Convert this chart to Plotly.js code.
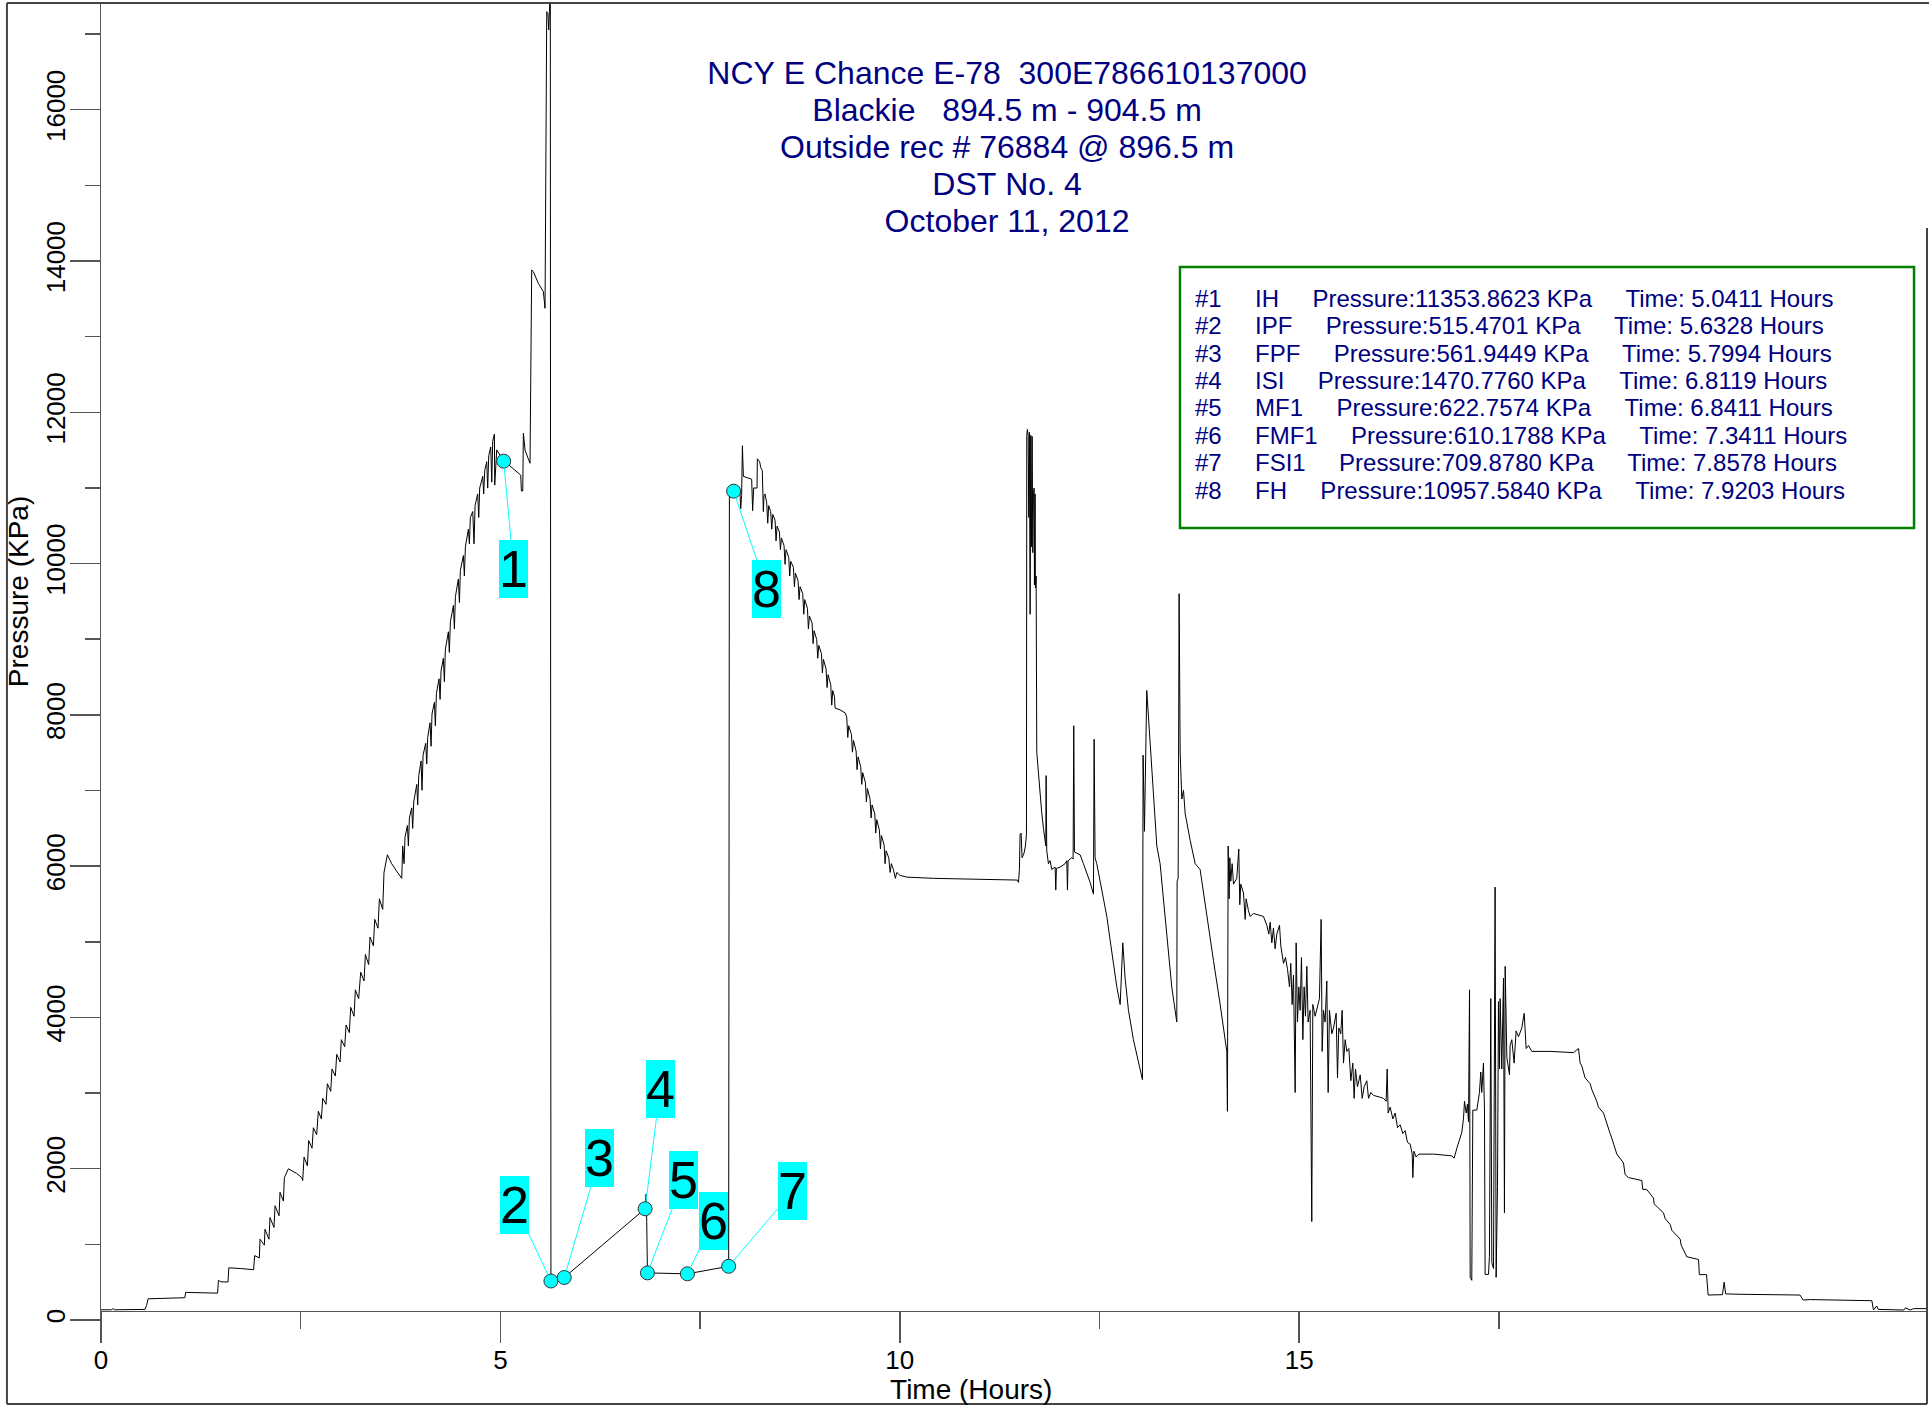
<!DOCTYPE html>
<html>
<head>
<meta charset="utf-8">
<script src="https://cdn.plot.ly/plotly-3.0.1.min.js"></script>
<style>html,body{margin:0;padding:0;background:#fff;}#chart{width:1929px;height:1405px;}</style>
</head>
<body>
<div id="chart"></div>
<script>
// ---------------- DATA ----------------
const titleLines = [
  'NCY E Chance E-78  300E786610137000',
  'Blackie   894.5 m - 904.5 m',
  'Outside rec # 76884 @ 896.5 m',
  'DST No. 4',
  'October 11, 2012'
];

// Event points (legend box + cyan markers)
const eventNames = ['IH', 'IPF', 'FPF', 'ISI', 'MF1', 'FMF1', 'FSI1', 'FH'];
const eventPressures = [11353.8623, 515.4701, 561.9449, 1470.7760, 622.7574, 610.1788, 709.8780, 10957.5840];
const eventTimes = [5.0411, 5.6328, 5.7994, 6.8119, 6.8411, 7.3411, 7.8578, 7.9203];

// Tick values
const timeTicks = [0, 5, 10, 15];
const timeMinorTicks = [2.5, 7.5, 12.5, 17.5];

// Pressure trace: [time (hours), pressure (KPa)]
const runInHole = [
  [0.00,135],[0.13,135],[0.15,150],[0.17,135],[0.55,140],[0.57,190],[0.59,280],[0.80,285],[1.05,295],
  [1.06,365],[1.30,362],[1.46,355],[1.47,525],[1.50,505],[1.59,502],[1.60,690],[1.75,680],[1.91,665],
  [1.924,851],[1.982,820],[1.991,1068],[2.045,990],[2.053,1200],[2.103,1068],[2.116,1355],[2.166,1223],
  [2.179,1510],[2.229,1378],[2.241,1689],[2.283,1572],[2.296,1883],[2.346,1999],[2.450,1937],[2.513,1883],
  [2.525,1844],[2.542,2154],[2.584,2038],[2.600,2372],[2.642,2271],[2.659,2542],[2.700,2449],[2.721,2759],
  [2.759,2658],[2.776,2930],[2.817,2852],[2.834,3124],[2.876,3023],[2.892,3318],[2.934,3225],[2.951,3512],
  [2.993,3411],[3.009,3706],[3.051,3613],[3.068,3900],[3.109,3799],[3.126,4133],[3.168,4016],[3.184,4365],
  [3.226,4249],[3.251,4598],[3.293,4482],[3.310,4831],[3.351,4699],[3.368,5063],[3.410,4947],[3.427,5296],
  [3.468,5180],[3.485,5568],[3.527,5428],[3.543,5917],[3.585,6150],[3.639,6033],[3.702,5932],[3.765,5839],
  [3.777,6266],[3.794,6033],[3.806,6382],[3.836,6537],[3.848,6266],[3.861,6638],[3.890,6770],[3.902,6499],
  [3.915,6848],[3.953,7081],[3.965,6809],[3.978,7197],[4.007,7391],[4.019,7003],[4.032,7468],[4.065,7624],
  [4.078,7352],[4.090,7701],[4.119,7895],[4.132,7585],[4.144,8011],[4.174,8167],[4.186,7856],[4.199,8283],
  [4.232,8477],[4.245,8205],[4.257,8578],[4.286,8748],[4.299,8438],[4.311,8865],[4.349,9098],[4.361,8826],
  [4.374,9230],[4.412,9447],[4.424,9136],[4.437,9563],[4.474,9796],[4.487,9486],[4.499,9912],[4.537,10106],
  [4.549,9835],[4.562,10222],[4.599,10455],[4.612,10261],[4.624,10610],[4.654,10688],[4.670,10261],[4.683,10766],
  [4.716,10921],[4.729,10610],[4.741,10998],[4.779,11153],[4.791,10921],[4.804,11231],[4.829,11347],[4.841,10998],
  [4.854,11425],[4.879,11541],[4.892,11076],[4.904,11619],[4.925,11712],[4.929,11037],[4.954,11503],
  [5.0411,11353.8623],[5.100,11309],[5.184,11230],[5.255,11169],[5.263,10960],[5.280,10960],[5.288,11722],
  [5.309,11500],[5.351,11380],[5.371,11326],[5.392,13881],[5.413,13859],[5.475,13705],[5.538,13595],
  [5.559,13375],[5.580,17296],[5.595,17274],[5.605,17054],[5.612,17252],[5.625,17600]
];

const flowAndShutIn = [
  [5.6328,515.4701],[5.7994,561.9449],[6.8119,1470.7760],[6.825,1666],[6.832,1300],
  [6.8411,622.7574],[7.3411,610.1788],[7.8578,709.8780]
];

const pullOutOfHole = [
  [7.867,11000],[7.9203,10957.5840],[7.998,10960],[8.009,10727],[8.020,10900],[8.030,11557],[8.042,11153],
  [8.146,11115],[8.158,10700],[8.171,11000],[8.213,10998],[8.217,11386],[8.246,11347],[8.259,11270],
  [8.279,11231],[8.292,10688],[8.300,10900],
  [8.313,10921],[8.334,10804],[8.347,10533],[8.359,10766],[8.384,10688],[8.397,10455],[8.410,10649],
  [8.439,10572],[8.451,10300],[8.464,10494],[8.493,10417],[8.506,10184],[8.518,10339],[8.551,10238],
  [8.564,9990],[8.576,10184],[8.610,10083],[8.622,9835],[8.635,10029],[8.668,9951],[8.681,9695],[8.693,9874],
  [8.727,9773],[8.739,9524],[8.752,9695],[8.785,9602],[8.798,9330],[8.810,9524],[8.844,9408],[8.856,9136],
  [8.869,9307],[8.902,9214],[8.915,8942],[8.927,9113],[8.960,8997],[8.973,8748],[8.986,8919],[9.019,8811],
  [9.031,8555],[9.044,8733],[9.077,8609],[9.090,8361],[9.102,8531],[9.136,8399],[9.148,8128],[9.161,8322],
  [9.182,8244],[9.190,8089],[9.253,8066],[9.315,8027],[9.336,7973],[9.349,7701],[9.361,7856],[9.395,7740],
  [9.407,7507],[9.420,7662],[9.453,7523],[9.465,7275],[9.478,7445],[9.511,7313],[9.524,7081],[9.536,7236],
  [9.570,7104],[9.582,6848],[9.595,7026],[9.628,6887],[9.641,6638],[9.653,6809],[9.687,6693],[9.699,6437],
  [9.712,6615],[9.745,6475],[9.758,6227],[9.770,6406],[9.804,6281],[9.816,6033],[9.829,6204],[9.862,6111],
  [9.879,5917],[9.895,6033],[9.920,5956],[9.945,5839],[9.962,5917],[10.004,5878],[10.087,5855],
  [10.421,5839],[10.839,5832],[11.465,5816]
];

const recoveryPeriod = [
  [11.473,5816],[11.486,5785],[11.498,5956],[11.506,6421],[11.519,6437],[11.531,6111],[11.556,6173],
  [11.573,6266],[11.586,6421],[11.590,11697],[11.598,11774],[11.607,11697],[11.615,10610],[11.623,11735],
  [11.632,9330],[11.640,11697],[11.648,10222],[11.657,11681],[11.665,10145],[11.673,10921],[11.682,10998],
  [11.686,9718],[11.694,10921],[11.698,9679],[11.707,9835],[11.715,7507],[11.736,7197],[11.757,6964],
  [11.778,6693],[11.799,6499],[11.819,6305],[11.828,6266],[11.832,7197],[11.840,6204],[11.861,6033],
  [11.882,6072],[11.903,5956],[11.924,5971],[11.945,5987],[11.953,5684],[11.961,5971],[12.007,5987],
  [12.070,6033],[12.091,6072],[12.099,5684],[12.107,6072],[12.153,6111],[12.170,6095],[12.178,7856],
  [12.187,6188],[12.216,6173],[12.258,6150],[12.299,6033],[12.341,5917],[12.383,5785],[12.425,5630],
  [12.433,7678],[12.445,6111],[12.466,6033],[12.508,5801],[12.550,5568],[12.592,5335],[12.633,5025],
  [12.675,4714],[12.717,4404],[12.759,4171],[12.792,4986],[12.821,4520],[12.863,4094],[12.925,3706],
  [12.988,3396],[13.038,3178],[13.046,7468],[13.063,6460],[13.092,8322],[13.134,7662],[13.176,6887],
  [13.218,6266],[13.259,6033],[13.301,5568],[13.343,5025],[13.405,4404],[13.468,3939],[13.472,5801],
  [13.485,5839],[13.497,9602],[13.510,7507],[13.531,6887],[13.552,7003],[13.573,6693],[13.635,6344],
  [13.698,6033],[13.760,5956],[13.844,5335],[13.927,4753],[14.011,4171],[14.094,3551],[14.102,2759],
  [14.111,6266],[14.123,5568],[14.132,6111],[14.144,5801],[14.161,6033],[14.178,5762],[14.219,5839],
  [14.244,6227],[14.257,5490],[14.269,5762],[14.303,5645],[14.324,5296],[14.336,5568],[14.365,5413],
  [14.386,5335],[14.428,5374],[14.491,5351],[14.553,5335],[14.595,5219],[14.620,5102],[14.637,5258],
  [14.658,4986],[14.678,5180],[14.699,4908],[14.720,5102],[14.754,5219],[14.770,4947],[14.804,4714],
  [14.829,4792],[14.854,4637],[14.879,4404],[14.895,4714],[14.912,4171],[14.929,4560],[14.950,3008],
  [14.962,4986],[14.979,3939],[14.996,4404],[15.012,4094],[15.029,4792],[15.046,3706],[15.062,4404],
  [15.079,4016],[15.096,4675],[15.112,3939],[15.137,4094],[15.158,1301],[15.171,4171],[15.200,4016],
  [15.221,4094],[15.254,4249],[15.275,5296],[15.288,3551],[15.304,4094],[15.325,3939],[15.346,4482],
  [15.363,3008],[15.379,4094],[15.409,3784],[15.430,3861],[15.463,4055],[15.480,3201],[15.496,3861],
  [15.521,3784],[15.538,4094],[15.555,3396],[15.576,3706],[15.597,3551],[15.622,3589],[15.647,3163],
  [15.672,3396],[15.688,2930],[15.705,3318],[15.730,3085],[15.764,3240],[15.789,2930],[15.814,3085],
  [15.847,3163],[15.868,2930],[15.897,3008],[15.931,2969],[16.014,2945],[16.056,2930],[16.089,2891],
  [16.102,3318],[16.114,2736],[16.139,2814],[16.173,2659],[16.202,2736],[16.231,2542],[16.264,2581],
  [16.298,2465],[16.327,2503],[16.356,2348],[16.390,2325],[16.415,2193],[16.423,1883],[16.436,2232],
  [16.465,2154],[16.498,2193],[16.682,2193],[16.911,2170],[16.940,2139],[16.974,2271],[17.007,2387],
  [17.036,2480],[17.057,2659],[17.070,2891],[17.091,2736],[17.107,2852],[17.120,2620],[17.133,4365],
  [17.141,564],[17.161,525],[17.174,2775],[17.224,2775],[17.257,3008],[17.274,3279],[17.286,3008],
  [17.307,3396],[17.320,2775],[17.328,603],[17.370,603],[17.382,836],[17.399,4249],[17.412,758],
  [17.433,680],[17.453,5723],[17.466,564],[17.483,1766],[17.495,4210],[17.508,3318],[17.516,4249],
  [17.537,3318],[17.558,4520],[17.570,1417],[17.579,4675],[17.600,3473],[17.633,3240],[17.641,3628],
  [17.662,3706],[17.691,3396],[17.716,3822],[17.746,3745],[17.787,3861],[17.817,4055],[17.842,3589],
  [17.871,3628],[17.913,3551],[18.142,3551],[18.434,3535],[18.497,3589],[18.518,3396],[18.539,3358],
  [18.559,3279],[18.580,3200],[18.643,3124],[18.664,3046],[18.726,2891],[18.747,2814],[18.810,2736],
  [18.831,2659],[18.893,2465],[18.914,2403],[18.977,2193],[19.060,2077],[19.081,1922],[19.123,1883],
  [19.290,1844],[19.301,1727],[19.350,1727],[19.436,1611],[19.444,1534],[19.561,1417],[19.582,1340],
  [19.645,1262],[19.666,1185],[19.770,1069],[19.782,991],[19.853,836],[20.000,800],[20.010,600],
  [20.100,600],[20.120,330],[20.300,335],[20.320,500],[20.340,345],[20.520,340],
  [21.270,330],[21.310,264],[21.400,270],[22.170,255],[22.190,132],[22.230,185],[22.250,140],
  [22.570,132],[22.590,160],[22.650,132],[22.690,150],[22.860,150]
];

// Axis settings
const xRange = [0, 22.86];
const yRange = [0, 17411];
const xAxisAtPressure = 119;   // the time axis is drawn a little above 0 KPa, as in the reference

// ---------------- BUILD ----------------
const trace = [].concat(runInHole, flowAndShutIn, pullOutOfHole, recoveryPeriod);
const FONT = 'Liberation Sans, Arial, Helvetica, sans-serif';
const NAVY = '#000080';
const nb = s => s.replace(/ /g, '\u00a0');
const ZW = '\u200b';
const pad = n => '\u00a0'.repeat(n);

const lineTrace = {
  type: 'scatter', mode: 'lines',
  x: trace.map(p => p[0]), y: trace.map(p => p[1]),
  line: {color: '#000000', width: 1},
  hoverinfo: 'skip', showlegend: false
};
const markerTrace = {
  type: 'scatter', mode: 'markers',
  x: eventTimes, y: eventPressures,
  marker: {size: 14, color: '#00FFFF', line: {color: '#333333', width: 1}},
  showlegend: false
};

// callout boxes offsets (pixels, from marker to label centre)
const calloutOffsets = [[10,108],[-36,-76],[35,-119],[15,-120],[36,-93],[26,-53],[64,-75],[33,98]];
const annotations = [];
eventTimes.forEach((t, i) => {
  annotations.push({
    x: t, y: eventPressures[i], xref: 'x', yref: 'y',
    text: String(i + 1), showarrow: true, arrowhead: 0, arrowwidth: 1, arrowcolor: '#00FFFF',
    ax: calloutOffsets[i][0], ay: calloutOffsets[i][1], standoff: 7,
    bgcolor: '#00FFFF', borderpad: 0, borderwidth: 0,
    font: {family: FONT, size: 52, color: '#000000'}
  });
});

// legend box rows
const boxLeft = 0.5980, rowTop = 0.7758, rowStep = 0.02081;
eventNames.forEach((n, i) => {
  const txt = '#' + (i + 1) + '     ' + n + '     Pressure:' + eventPressures[i].toFixed(4) +
              ' KPa     Time: ' + eventTimes[i].toFixed(4) + ' Hours';
  annotations.push({
    xref: 'paper', yref: 'paper', x: boxLeft, y: rowTop - i * rowStep,
    xanchor: 'left', yanchor: 'middle', showarrow: false,
    text: nb(txt), font: {family: FONT, size: 24, color: NAVY}
  });
});

const frameColor = '#444444';
const shapes = [
  {type: 'rect', xref: 'paper', yref: 'paper', x0: 0.5909, x1: 0.9929, y0: 0.6014, y1: 0.7995,
   line: {color: '#008000', width: 2.5}, fillcolor: 'rgba(0,0,0,0)'},
  {type: 'line', xref: 'paper', yref: 'paper', x0: -0.0515, x1: 1.0011, y0: 1, y1: 1, line: {color: frameColor, width: 2}},
  {type: 'line', xref: 'paper', yref: 'paper', x0: -0.0515, x1: -0.0515, y0: 1, y1: -0.0638, line: {color: frameColor, width: 2}},
  {type: 'line', xref: 'paper', yref: 'paper', x0: -0.0515, x1: 1.0, y0: -0.0638, y1: -0.0638, line: {color: frameColor, width: 2}},
  {type: 'line', xref: 'paper', yref: 'paper', x0: 1.0, x1: 1.0, y0: 0.8292, y1: -0.0638, line: {color: frameColor, width: 2}}
];

const axisCommon = {
  showgrid: false, zeroline: false, showline: true, linecolor: '#555555', linewidth: 1.5,
  ticks: 'outside', tickcolor: '#555555', tickwidth: 1.5,
  tickfont: {family: FONT, size: 26, color: '#000000'}, automargin: false
};

// title: line spacing ~37px, glyphs ~32px
const titleText = titleLines.map(l => '<span style="font-size:32px">' + nb(l) + '</span>').join('<br>');

const layout = {
  width: 1929, height: 1405,
  margin: {l: 101, r: 2, t: 3, b: 85, pad: 0},
  paper_bgcolor: '#ffffff', plot_bgcolor: '#ffffff',
  showlegend: false,
  title: {
    text: titleText,
    font: {family: FONT, size: 28.5, color: NAVY},
    x: 0.4962, xref: 'paper', xanchor: 'center',
    y: 0.9402, yref: 'container', yanchor: 'top'
  },
  xaxis: Object.assign({}, axisCommon, {
    range: xRange, tickmode: 'array', tickvals: timeTicks, ticklen: 31, ticklabelstandoff: -6,
    minor: {tickmode: 'array', tickvals: timeMinorTicks, ticks: 'outside', ticklen: 17, tickcolor: '#555555', tickwidth: 1.5},
    anchor: 'free', position: xAxisAtPressure / yRange[1],
    title: {text: 'Time (Hours)' + pad(11) + ZW, font: {family: FONT, size: 28, color: '#000000'}, standoff: 12}
  }),
  yaxis: Object.assign({}, axisCommon, {
    range: yRange, tick0: 0, dtick: 2000, ticklen: 30, tickangle: -90, tickformat: 'd', ticklabelstandoff: -6,
    minor: {dtick: 1000, ticks: 'outside', ticklen: 15, tickcolor: '#555555', tickwidth: 1.5},
    title: {text: ZW + pad(18) + 'Pressure (KPa)', font: {family: FONT, size: 28, color: '#000000'}, standoff: 4}
  }),
  annotations: annotations,
  shapes: shapes
};

Plotly.newPlot('chart', [lineTrace, markerTrace], layout, {staticPlot: true, displayModeBar: false});
</script>
</body>
</html>
